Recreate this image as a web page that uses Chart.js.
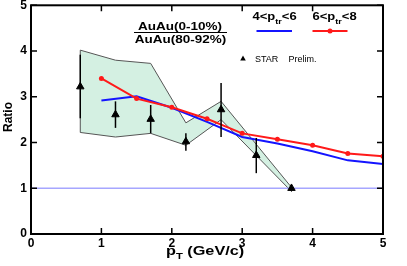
<!DOCTYPE html>
<html lang="en">
<head>
<meta charset="UTF-8" />
<title>Ratio vs pT</title>
<script src="https://cdn.jsdelivr.net/npm/chart.js"></script>
<style>
  html, body { margin: 0; padding: 0; background: #fff; }
</style>
</head>
<body>
<canvas id="ratioChart" width="407" height="266"></canvas>
<script>
// STAR preliminary points (triangles) with their error bars
const ptStar = [0.7, 1.2, 1.7, 2.2, 2.7, 3.2, 3.7];
const ratioStar = [3.22, 2.61, 2.51, 2.02, 2.72, 1.72, 1.00];
const errStarLow = [0.69, 0.29, 0.31, 0.20, 0.60, 0.39, 0];
const errStarHigh = [0.70, 0.29, 0.31, 0.18, 0.58, 0.38, 0];

// green band
const ptBand = [0.7, 1.2, 1.7, 2.2, 2.7, 3.7];
const bandHigh = [4.02, 3.80, 3.73, 2.43, 2.90, 1.02];
const bandLow = [2.22, 2.12, 2.20, 1.94, 2.50, 0.93];

// 4<ptr<6 (blue) and 6<ptr<8 (red)
const ptCurve = [1.0, 1.5, 2.0, 2.5, 3.0, 3.5, 4.0, 4.5, 5.0];
const ratioBlue = [2.92, 3.01, 2.76, 2.45, 2.12, 1.98, 1.81, 1.61, 1.53];
const ratioRed = [3.40, 2.96, 2.77, 2.52, 2.20, 2.07, 1.94, 1.76, 1.70];

// reference line at 1
const ptRef = [0, 5];
const ratioRef = [1, 1];

const xTicks = [0, 1, 2, 3, 4, 5];
const yTicks = [0, 1, 2, 3, 4, 5];

const FONT = '"Liberation Sans", Arial, Helvetica, sans-serif';
Chart.defaults.font.family = FONT;

function pts(xs, ys) {
  return xs.map((x, i) => ({ x: x, y: ys[i] }));
}

// closed outline of the band: upper edge left->right, lower edge right->left
const bandShape = pts(ptBand, bandHigh)
  .concat(pts(ptBand, bandLow).reverse())
  .concat([{ x: ptBand[0], y: bandHigh[0] }]);

// draw text pieces one after another (for subscripts), stretched by sx
function drawParts(ctx, parts, x, y, sx) {
  ctx.save();
  ctx.translate(x, y);
  ctx.scale(sx, 1);
  let cx = 0;
  for (const [t, font, dy] of parts) {
    ctx.font = font;
    ctx.fillText(t, cx, dy);
    cx += ctx.measureText(t).width;
  }
  ctx.restore();
  return cx * sx;
}

function centered(ctx, t, font, x, y, sx) {
  ctx.font = font;
  const w = ctx.measureText(t).width * sx;
  drawParts(ctx, [[t, font, 0]], x - w / 2, y, sx);
}

const decor = {
  id: 'decor',
  afterDatasetsDraw(chart) {
    const ctx = chart.ctx;
    const xs = chart.scales.x, ys = chart.scales.y;
    ctx.save();
    ctx.strokeStyle = '#000';
    ctx.lineWidth = 1.5;
    ptStar.forEach((p, i) => {
      const px = xs.getPixelForValue(p);
      ctx.beginPath();
      ctx.moveTo(px, ys.getPixelForValue(ratioStar[i] - errStarLow[i]));
      ctx.lineTo(px, ys.getPixelForValue(ratioStar[i] + errStarHigh[i]));
      ctx.stroke();
    });
    ctx.restore();
  },
  afterDraw(chart) {
    const ctx = chart.ctx;
    const a = chart.chartArea;
    const xs = chart.scales.x, ys = chart.scales.y;
    ctx.save();
    // frame
    ctx.strokeStyle = '#000';
    ctx.lineWidth = 2;
    ctx.strokeRect(a.left, a.top, a.right - a.left, a.bottom - a.top);
    // inward ticks on all four sides
    ctx.lineWidth = 1.5;
    ctx.beginPath();
    xTicks.forEach(v => {
      const px = xs.getPixelForValue(v);
      ctx.moveTo(px, a.bottom); ctx.lineTo(px, a.bottom - 6);
      ctx.moveTo(px, a.top); ctx.lineTo(px, a.top + 6);
    });
    yTicks.forEach(v => {
      const py = ys.getPixelForValue(v);
      ctx.moveTo(a.left, py); ctx.lineTo(a.left + 6, py);
      ctx.moveTo(a.right, py); ctx.lineTo(a.right - 6, py);
    });
    ctx.stroke();

    ctx.fillStyle = '#000';
    ctx.textBaseline = 'alphabetic';
    ctx.textAlign = 'left';

    // fraction label
    const fb = 'bold 10px ' + FONT;
    centered(ctx, 'AuAu(0-10%)', fb, 180, 30, 1.35);
    centered(ctx, 'AuAu(80-92%)', fb, 180.5, 43, 1.35);
    ctx.lineWidth = 1;
    ctx.beginPath();
    ctx.moveTo(134, 32.5); ctx.lineTo(227, 32.5);
    ctx.stroke();

    // legend
    const lb = 'bold 10px ' + FONT, ls = 'bold 7px ' + FONT;
    drawParts(ctx, [['4<p', lb, 0], ['tr', ls, 3.5], ['<6', lb, 0]], 252.5, 20, 1.3);
    drawParts(ctx, [['6<p', lb, 0], ['tr', ls, 3.5], ['<8', lb, 0]], 312.5, 20, 1.3);
    ctx.lineWidth = 2;
    ctx.strokeStyle = '#1414ff';
    ctx.beginPath(); ctx.moveTo(256.5, 31); ctx.lineTo(292, 31); ctx.stroke();
    ctx.strokeStyle = '#ff1a1a';
    ctx.beginPath(); ctx.moveTo(312.5, 31); ctx.lineTo(347.5, 31); ctx.stroke();
    ctx.fillStyle = '#ff1a1a';
    ctx.beginPath(); ctx.arc(330, 31, 2.5, 0, Math.PI * 2); ctx.fill();

    // STAR Prelim.
    ctx.fillStyle = '#000';
    ctx.beginPath();
    ctx.moveTo(243, 55.5); ctx.lineTo(245.8, 60.5); ctx.lineTo(240.2, 60.5);
    ctx.closePath(); ctx.fill();
    ctx.font = '9px ' + FONT;
    ctx.fillText('STAR', 255, 62);
    ctx.fillText('Prelim.', 288.5, 62);

    // axis titles
    const tb = 'bold 13px ' + FONT, ts = 'bold 9px ' + FONT;
    drawParts(ctx, [['p', tb, 0], ['T', ts, 4], [' (GeV/c)', tb, 0]], 166, 255, 1.25);
    ctx.save();
    ctx.translate(12, 117);
    ctx.rotate(-Math.PI / 2);
    ctx.font = 'bold 12px ' + FONT;
    ctx.textAlign = 'center';
    ctx.fillText('Ratio', 0, 0);
    ctx.restore();

    ctx.restore();
  }
};

new Chart(document.getElementById('ratioChart'), {
  type: 'line',
  data: {
    datasets: [
      {
        label: 'STAR Prelim.',
        data: pts(ptStar, ratioStar),
        showLine: false,
        pointStyle: 'triangle',
        pointRadius: 4.3,
        backgroundColor: '#000',
        borderColor: '#000',
        borderWidth: 1,
        order: 0
      },
      {
        label: '6<ptr<8',
        data: pts(ptCurve, ratioRed),
        borderColor: '#ff1a1a',
        backgroundColor: '#ff1a1a',
        borderWidth: 2,
        pointRadius: 2.5,
        pointBorderWidth: 0,
        order: 1
      },
      {
        label: '4<ptr<6',
        data: pts(ptCurve, ratioBlue),
        borderColor: '#1414ff',
        borderWidth: 2,
        pointRadius: 0,
        order: 2
      },
      {
        label: 'ref',
        data: pts(ptRef, ratioRef),
        borderColor: '#a6a6ff',
        borderWidth: 1.5,
        pointRadius: 0,
        order: 3
      },
      {
        label: 'band',
        data: bandShape,
        borderColor: '#555',
        borderWidth: 1,
        backgroundColor: 'rgb(212,240,226)',
        fill: 'shape',
        pointRadius: 0,
        order: 4
      }
    ]
  },
  options: {
    responsive: false,
    animation: false,
    events: [],
    layout: { padding: { left: 0, right: 24, top: 4.5, bottom: 0 } },
    plugins: {
      legend: { display: false },
      tooltip: { enabled: false },
      filler: { drawTime: 'beforeDatasetsDraw' }
    },
    scales: {
      x: {
        type: 'linear',
        min: 0,
        max: 5,
        grid: { display: false, drawTicks: false },
        border: { display: false },
        ticks: {
          stepSize: 1,
          padding: 2,
          color: '#000',
          font: { size: 12, weight: 'bold' }
        },
        afterFit(s) { s.height = 32; s.paddingLeft = 0; s.paddingRight = 0; }
      },
      y: {
        min: 0,
        max: 5,
        grid: { display: false, drawTicks: false },
        border: { display: false },
        ticks: {
          stepSize: 1,
          padding: 4,
          color: '#000',
          font: { size: 12, weight: 'bold' }
        },
        afterFit(s) { s.width = 31; s.paddingTop = 0; s.paddingBottom = 0; }
      }
    }
  },
  plugins: [decor]
});
</script>
</body>
</html>
